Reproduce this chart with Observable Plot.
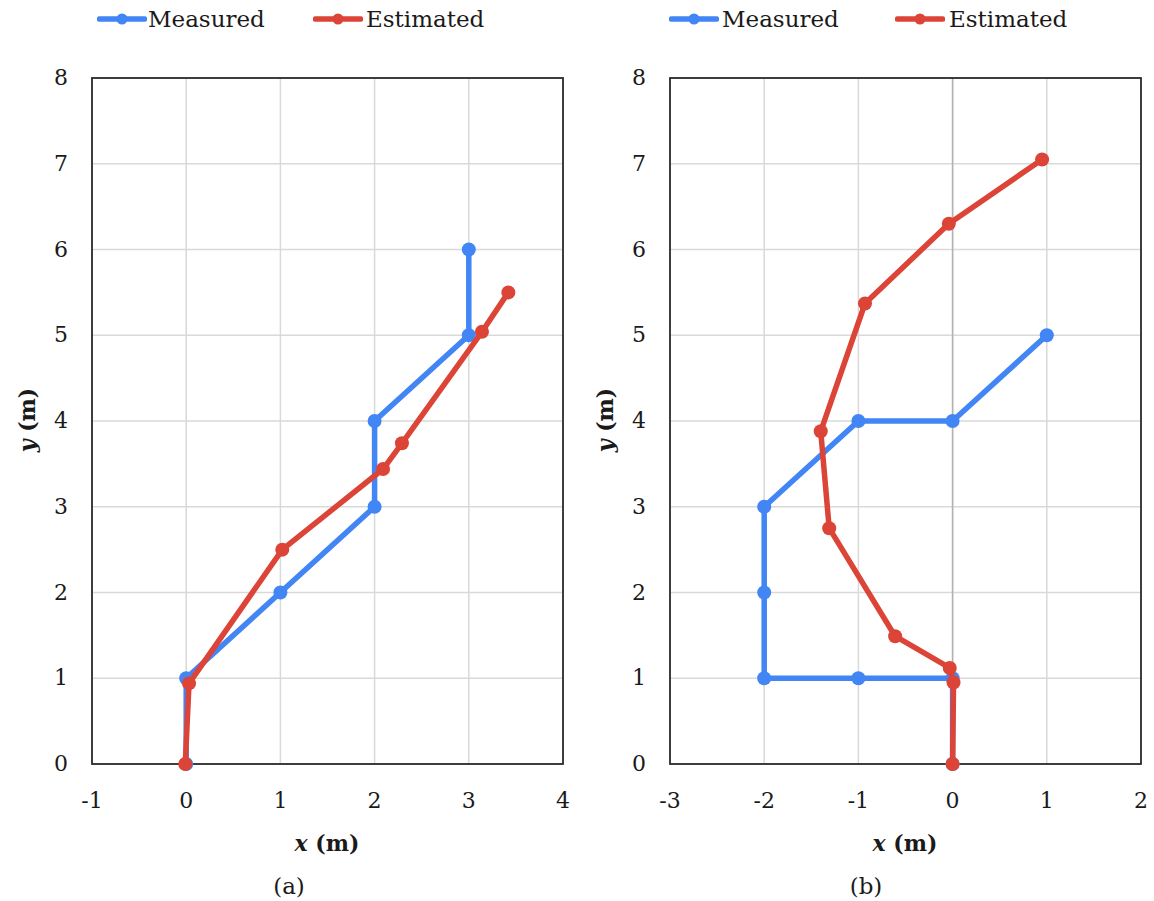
<!DOCTYPE html>
<html>
<head>
<meta charset="utf-8">
<script src="https://cdn.jsdelivr.net/npm/d3@7"></script>
<script src="https://cdn.jsdelivr.net/npm/@observablehq/plot@0.6"></script>
<style>
  html, body { margin: 0; padding: 0; background: #fff; }
  #root { position: relative; width: 1154px; height: 901px; overflow: hidden;
          font-family: "DejaVu Serif", serif; color: #1a1a1a; background: #fff; }
  .abs { position: absolute; white-space: nowrap; line-height: 1; }
  .leg { font-size: 23px; transform: translateY(-50%); }
  .xt { font-size: 22px; font-weight: bold; transform: translate(-50%, -50%); }
  .yt { font-size: 22px; font-weight: bold; transform: translate(-50%, -50%) rotate(-90deg); }
  .cap { font-size: 23px; transform: translate(-50%, -50%); }
  .panel { position: absolute; top: 40px; }
</style>
</head>
<body>
<div id="root"></div>
<script>
// ---- data ----
const yTicks = [0, 1, 2, 3, 4, 5, 6, 7, 8];
const aXTicks = [-1, 0, 1, 2, 3, 4];
const bXTicks = [-3, -2, -1, 0, 1, 2];
const seriesNames = ["Measured", "Estimated"];
const seriesColors = ["#4285F4", "#DB4437"];

// panel (a)
const aMeasuredX = [0, 0, 1, 2, 2, 3, 3];
const aMeasuredY = [0, 1, 2, 3, 4, 5, 6];
const aEstimatedX = [-0.01, 0.03, 1.02, 2.09, 2.29, 3.14, 3.42];
const aEstimatedY = [0.0, 0.94, 2.5, 3.44, 3.74, 5.04, 5.5];

// panel (b)
const bMeasuredX = [0, 0, -1, -2, -2, -2, -1, 0, 1];
const bMeasuredY = [0, 1, 1, 1, 2, 3, 4, 4, 5];
const bEstimatedX = [0.0, 0.01, -0.03, -0.61, -1.31, -1.40, -0.93, -0.04, 0.95];
const bEstimatedY = [0.0, 0.95, 1.12, 1.49, 2.75, 3.88, 5.37, 6.30, 7.05];

const toPts = (xs, ys) => xs.map((x, i) => ({x, y: ys[i]}));

function panel(xDomain, xTicks, measured, estimated, ml, mr, darkZero) {
  const marks = [
    Plot.ruleX(xTicks, {stroke: "#d9d9d9", strokeWidth: 1.5}),
    Plot.ruleY(yTicks, {stroke: "#d9d9d9", strokeWidth: 1.5})
  ];
  if (darkZero) marks.push(Plot.ruleX([0], {stroke: "#b3b3b3", strokeWidth: 1.5}));
  marks.push(
    Plot.frame({stroke: "#262626", strokeWidth: 1.75}),
    Plot.line(measured, {x: "x", y: "y", stroke: seriesColors[0], strokeWidth: 5.5, strokeLinejoin: "round"}),
    Plot.dot(measured, {x: "x", y: "y", r: 7, fill: seriesColors[0], stroke: "none"}),
    Plot.line(estimated, {x: "x", y: "y", stroke: seriesColors[1], strokeWidth: 5.5, strokeLinejoin: "round"}),
    Plot.dot(estimated, {x: "x", y: "y", r: 7, fill: seriesColors[1], stroke: "none"})
  );
  return Plot.plot({
    width: 577,
    height: 820,
    marginTop: 37.5,
    marginBottom: 96.5,
    marginLeft: ml,
    marginRight: mr,
    style: {fontFamily: '"DejaVu Serif", serif', fontSize: "22px", color: "#1a1a1a",
            background: "transparent", overflow: "visible"},
    x: {domain: xDomain, ticks: xTicks, tickSize: 0, tickPadding: 28,
        tickFormat: d => String(d), label: null},
    y: {domain: [0, 8], ticks: yTicks, tickSize: 0, tickPadding: 24,
        tickFormat: d => String(d), label: null},
    marks
  });
}

const root = document.getElementById("root");

const pa = panel([-1, 4], aXTicks, toPts(aMeasuredX, aMeasuredY), toPts(aEstimatedX, aEstimatedY), 91.5, 14.5, false);
pa.classList.add("panel");
pa.style.left = "0px";
root.appendChild(pa);

const pb = panel([-3, 2], bXTicks, toPts(bMeasuredX, bMeasuredY), toPts(bEstimatedX, bEstimatedY), 92.5, 13.5, true);
pb.classList.add("panel");
pb.style.left = "577px";
root.appendChild(pb);

function addDiv(cls, html, left, top) {
  const d = document.createElement("div");
  d.className = "abs " + cls;
  d.innerHTML = html;
  d.style.left = left + "px";
  d.style.top = top + "px";
  root.appendChild(d);
  return d;
}

function swatch(color, left, cy) {
  const ns = "http://www.w3.org/2000/svg";
  const s = document.createElementNS(ns, "svg");
  s.setAttribute("width", 50); s.setAttribute("height", 14);
  s.style.position = "absolute";
  s.style.left = left + "px";
  s.style.top = (cy - 7) + "px";
  const l = document.createElementNS(ns, "line");
  l.setAttribute("x1", 2.5); l.setAttribute("x2", 47.5);
  l.setAttribute("y1", 7); l.setAttribute("y2", 7);
  l.setAttribute("stroke", color); l.setAttribute("stroke-width", 5.5);
  l.setAttribute("stroke-linecap", "round");
  const c = document.createElementNS(ns, "circle");
  c.setAttribute("cx", 25); c.setAttribute("cy", 7); c.setAttribute("r", 5.5);
  c.setAttribute("fill", color);
  s.appendChild(l); s.appendChild(c);
  root.appendChild(s);
}

// legends
const legendY = 19;
[[97, 148, 313, 366], [669, 722, 895, 949]].forEach(([bs, bt, rs, rt]) => {
  swatch(seriesColors[0], bs, legendY);
  addDiv("leg", seriesNames[0], bt, legendY);
  swatch(seriesColors[1], rs, legendY);
  addDiv("leg", seriesNames[1], rt, legendY);
});

// axis titles
addDiv("xt", "<i>x</i> (m)", 327, 843);
addDiv("xt", "<i>x</i> (m)", 905, 843);
addDiv("yt", "<i>y</i> (m)", 27, 420);
addDiv("yt", "<i>y</i> (m)", 605, 420);

// captions
addDiv("cap", "(a)", 289, 886);
addDiv("cap", "(b)", 866, 886);
</script>
</body>
</html>
